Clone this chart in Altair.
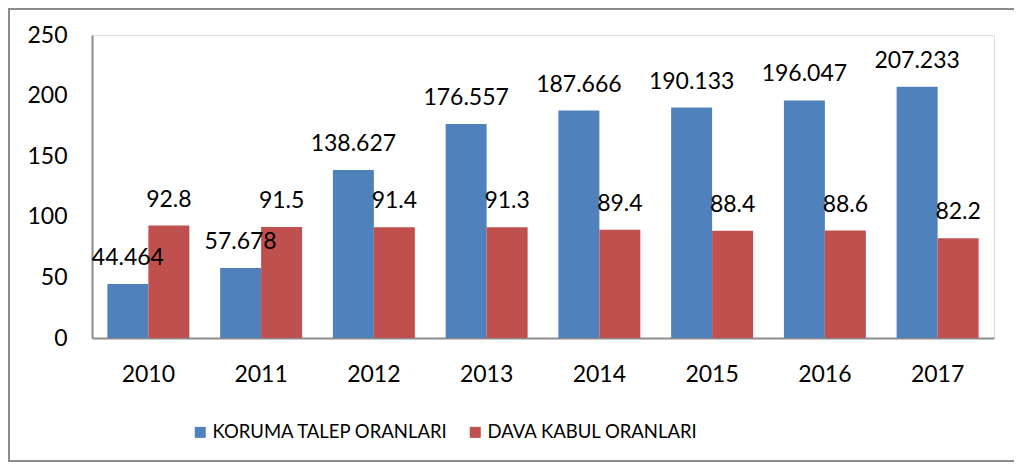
import altair as alt
import pandas as pd

years = ["2010", "2011", "2012", "2013", "2014", "2015", "2016", "2017"]
koruma = [44.464, 57.678, 138.627, 176.557, 187.666, 190.133, 196.047, 207.233]
dava = [92.8, 91.5, 91.4, 91.3, 89.4, 88.4, 88.6, 82.2]
series = ["KORUMA TALEP ORANLARI", "DAVA KABUL ORANLARI"]
colors = ["#4F81BD", "#C0504D"]

rows = []
for i, y in enumerate(years):
    rows.append({"year": y, "series": series[0], "value": koruma[i], "label": f"{koruma[i]:g}"})
    rows.append({"year": y, "series": series[1], "value": dava[i], "label": f"{dava[i]:g}"})
df = pd.DataFrame(rows)

FONT = "Lato"

x = alt.X("year:N", sort=years, title=None,
          scale=alt.Scale(paddingInner=0.273, paddingOuter=0.1365),
          axis=alt.Axis(labelAngle=0, labelFontSize=23, labelFont=FONT, labelColor="#000",
                        ticks=False, tickSize=0, labelPadding=25, domainColor="#8c8c8c",
                        domainWidth=2, grid=False))
xoff = alt.XOffset("series:N", sort=series, scale=alt.Scale(paddingInner=0, paddingOuter=0))
y = alt.Y("value:Q", title=None,
          scale=alt.Scale(domain=[0, 250], nice=False),
          axis=alt.Axis(values=[0, 50, 100, 150, 200, 250], labelFontSize=23, labelFont=FONT,
                        labelColor="#000", ticks=False, tickSize=0, labelPadding=25,
                        domainColor="#8c8c8c", domainWidth=2, grid=False))

bars = alt.Chart(df).mark_bar().encode(
    x=x, xOffset=xoff, y=y,
    color=alt.Color("series:N", sort=series, title=None,
                    scale=alt.Scale(domain=series, range=colors),
                    legend=alt.Legend(orient="none", legendX=99, legendY=388, direction="horizontal",
                                      symbolType="square", symbolSize=121, symbolStrokeWidth=0,
                                      labelFontSize=18.5, labelFont=FONT, labelColor="#000",
                                      labelLimit=0, labelOffset=3, columnPadding=17, padding=0)),
)

labels = alt.Chart(df).mark_text(font=FONT, fontSize=23, color="#000", baseline="alphabetic", dy=-19).encode(
    x=x, xOffset=xoff, y=y, text="label:N"
)

border = alt.Chart(alt.Data(values=[{}])).mark_rect(fill=None, stroke="#8c8c8c", strokeWidth=2).encode(
    x=alt.value(-83), x2=alt.value(940), y=alt.value(-26), y2=alt.value(426)
)

chart = alt.layer(bars, labels, border).properties(
    width=902, height=303,
    padding={"left": 84, "top": 27, "right": 20, "bottom": 124},
    autosize=alt.AutoSizeParams(type="none"),
).configure_view(stroke=None).configure(background="white")

chart.save("out.html", embed_options={"renderer": "svg", "actions": False})
